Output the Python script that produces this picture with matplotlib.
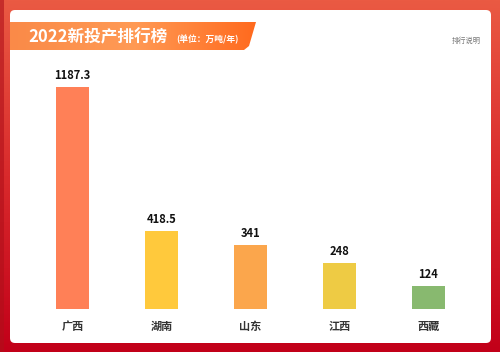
import matplotlib
matplotlib.use("Agg")
import matplotlib.pyplot as plt
import numpy as np
from matplotlib.patches import FancyBboxPatch, Polygon, Rectangle
from matplotlib.colors import LinearSegmentedColormap

plt.rcParams['font.family'] = ['Noto Sans CJK SC', 'DejaVu Sans']

categories = ['广西', '湖南', '山东', '江西', '西藏']
values = [1187.3, 418.5, 341, 248, 124]
value_labels = ['1187.3', '418.5', '341', '248', '124']
colors = ['#FF8057', '#FFC93C', '#FBA64C', '#EECB44', '#88B96F']

W, H = 500, 352
fig = plt.figure(figsize=(W/100, H/100), dpi=100)

# background frame gradient
bg = fig.add_axes([0, 0, 1, 1])
bg.set_xlim(0, W); bg.set_ylim(H, 0); bg.axis('off')
cmap_bg = LinearSegmentedColormap.from_list('bg', ['#EA5A43', '#D92A2C', '#C20019'])
grad = np.linspace(0, 1, 256).reshape(-1, 1)
bg.imshow(grad, cmap=cmap_bg, extent=[0, W, H, 0], aspect='auto')
# darker left edge
bg.add_patch(Rectangle((0, 0), 4, H, facecolor='#B0101A', edgecolor='none', alpha=0.6, zorder=1))
# white panel
panel = FancyBboxPatch((10, 10), 481, 333, boxstyle="round,pad=0,rounding_size=5",
                       facecolor='white', edgecolor='none', zorder=2)
bg.add_patch(panel)
# banner with gradient
cmap_ban = LinearSegmentedColormap.from_list('ban', ['#FA8A48', '#FF9A55', '#FF6A1E'])
bgrad = np.linspace(0, 1, 256).reshape(1, -1)
poly = Polygon([(10, 22), (256, 22), (249, 46), (244, 50), (10, 50)], closed=True,
               facecolor='none', edgecolor='none', zorder=3)
bg.add_patch(poly)
im = bg.imshow(bgrad, cmap=cmap_ban, extent=[10, 256, 50, 22], aspect='auto', zorder=3)
im.set_clip_path(poly)
bg.set_xlim(0, W); bg.set_ylim(H, 0)
bg.text(28, 37, '2022新投产排行榜', color='white', fontsize=12, fontweight='bold',
        va='center', ha='left', zorder=4)
bg.text(176, 39, '(单位：万吨/年)', color='white', fontsize=6.3, fontweight='bold',
        va='center', ha='left', zorder=4)
bg.text(452, 41, '排行说明', color='#777777', fontsize=5.2, va='center', ha='left', zorder=4)

# bar chart axes
ax = fig.add_axes([28/W, 43/H, 445/W, 262/H])
ax.set_xlim(-0.5, 4.5)
ax.set_ylim(0, 1400)
x = np.arange(len(categories))
bars = ax.bar(x, values, width=0.37, color=colors, zorder=3)
for xi, v, lab in zip(x, values, value_labels):
    ax.annotate(lab, (xi, v), xytext=(0, 3.5), textcoords='offset points',
                ha='center', va='bottom', fontsize=8, fontweight='bold', color='#111111')
ax.set_xticks(x)
ax.set_xticklabels(categories, fontsize=8, fontweight='bold', color='#333333')
ax.tick_params(axis='x', length=0, pad=8)
ax.set_yticks([])
for s in ax.spines.values():
    s.set_visible(False)
ax.patch.set_alpha(0)

fig.savefig('out.png', dpi=100)
